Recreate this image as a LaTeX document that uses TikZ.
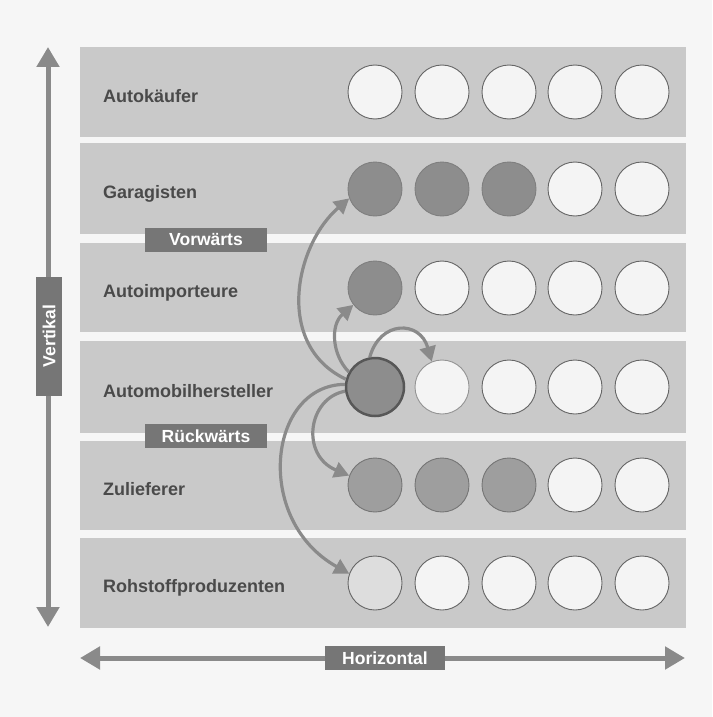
\documentclass[tikz,border=0pt]{standalone}
\usepackage{fontspec}
\setmainfont{Liberation Sans}
\usetikzlibrary{arrows.meta}
\definecolor{pagegray}{HTML}{F6F6F6}
\definecolor{bandgray}{HTML}{C9C9C9}
\definecolor{txtgray}{HTML}{4A4A4A}
\definecolor{ringgray}{HTML}{666666}
\definecolor{dotdark}{HTML}{8D8D8D}
\definecolor{dotmid}{HTML}{9E9E9E}
\definecolor{dotlight}{HTML}{DDDDDD}
\definecolor{dotwhite}{HTML}{F4F4F4}
\definecolor{taggray}{HTML}{767676}
\definecolor{arrgray}{HTML}{8A8A8A}
\begin{document}
\begin{tikzpicture}[x=1pt,y=-1pt,
  band/.style={fill=bandgray, draw=none, minimum width=606pt, inner sep=0pt},
  lbl/.style={anchor=west, text=txtgray, inner sep=0pt, font=\bfseries\fontsize{18}{18}\selectfont},
  dot/.style={circle, minimum size=54pt, inner sep=0pt, draw=ringgray, line width=0.9pt, fill=dotwhite},
  darkdot/.style={dot, fill=dotdark, draw=dotdark!90!black},
  middot/.style={dot, fill=dotmid, draw=ringgray!90},
  lightdot/.style={dot, fill=dotlight},
  faintdot/.style={dot, draw=ringgray!70},
  mainarrdot/.style={circle, minimum size=58pt, inner sep=0pt, fill=dotdark, draw=ringgray!85!black, line width=2.5pt},
  tag/.style={fill=taggray, text=white, inner sep=0pt, font=\bfseries\fontsize{17.5}{17.5}\selectfont},
  conn/.style={draw=arrgray, line width=3.2pt, -{Triangle[length=15pt,width=16pt]}},
  axis/.style={draw=arrgray, line width=5pt, {Triangle[length=20pt,width=22pt]}-{Triangle[length=20pt,width=22pt]}}]
\useasboundingbox[fill=pagegray] (0,0) rectangle (712,717);
% bands
\node[band, minimum height=90pt] (b1) at (383,92) {};
\node[band, minimum height=91pt] (b2) at (383,188.5) {};
\node[band, minimum height=89pt] (b3) at (383,287.5) {};
\node[band, minimum height=92pt] (b4) at (383,387) {};
\node[band, minimum height=89pt] (b5) at (383,485.5) {};
\node[band, minimum height=90pt] (b6) at (383,583) {};
% row labels
\node[lbl] (l1) at (103,96) {Autokäufer};
\node[lbl] (l2) at (103,194) {Garagisten};
\node[lbl] (l3) at (103,293) {Autoimporteure};
\node[lbl] (l4) at (103,391) {Automobilhersteller};
\node[lbl] (l5) at (103,489) {Zulieferer};
\node[lbl] (l6) at (103,588) {Rohstoffproduzenten};
% circles
\foreach \i/\x in {1/375,2/442,3/509,4/575,5/642} {
  \node[dot] (c1\i) at (\x,92) {};
}
\foreach \i/\x/\s in {1/375/darkdot,2/442/darkdot,3/509/darkdot,4/575/dot,5/642/dot} {
  \node[\s] (c2\i) at (\x,189) {};
}
\foreach \i/\x/\s in {1/375/darkdot,2/442/dot,3/509/dot,4/575/dot,5/642/dot} {
  \node[\s] (c3\i) at (\x,288) {};
}
\node[mainarrdot] (c41) at (375,387) {};
\foreach \i/\x/\s in {2/442/faintdot,3/509/dot,4/575/dot,5/642/dot} {
  \node[\s] (c4\i) at (\x,387) {};
}
\foreach \i/\x/\s in {1/375/middot,2/442/middot,3/509/middot,4/575/dot,5/642/dot} {
  \node[\s] (c5\i) at (\x,485) {};
}
\foreach \i/\x/\s in {1/375/lightdot,2/442/dot,3/509/dot,4/575/dot,5/642/dot} {
  \node[\s] (c6\i) at (\x,583) {};
}
% connectors from the Automobilhersteller circle
\draw[conn] (c41.165) .. controls (274,345) and (295,245) .. (c21.200);
\draw[conn] (c41.150) .. controls (332,355) and (330,325) .. (c31.218);
\draw[conn] (c41.100) .. controls (380,320) and (420,320) .. (c42.112);
\draw[conn] (c41.188) .. controls (308,398) and (300,455) .. (c51.160);
\draw[conn] (c41.175) .. controls (268,385) and (253,520) .. (c61.160);
% tags
\node[tag, minimum width=122pt, minimum height=24pt] (tv) at (206,240) {Vorwärts};
\node[tag, minimum width=122pt, minimum height=24pt] (tr) at (206,436) {Rückwärts};
% axes
\coordinate (vt) at (48,47);
\coordinate (vb) at (48,627);
\coordinate (hl) at (80,658);
\coordinate (hr) at (685,658);
\draw[axis] (vb) -- (vt);
\draw[axis] (hl) -- (hr);
\node[tag, rotate=90, minimum width=119pt, minimum height=26pt] (tvk) at (49,336) {Vertikal};
\node[tag, minimum width=120pt, minimum height=24pt] (thz) at (385,658) {Horizontal};
\end{tikzpicture}
\end{document}
